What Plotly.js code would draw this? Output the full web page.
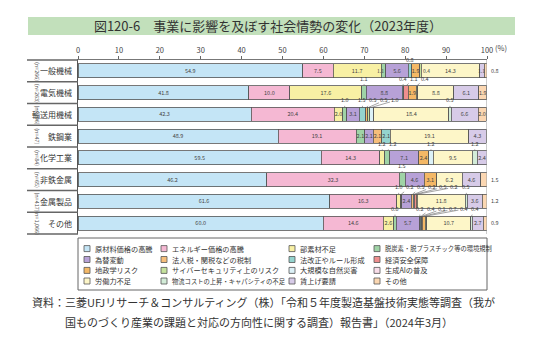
<!DOCTYPE html>
<html><head><meta charset="utf-8">
<script src="https://cdn.plot.ly/plotly-3.0.1.min.js"></script>
<style>html,body{margin:0;padding:0;background:#fff;}#chart{width:536px;height:354px;}</style>
</head><body><div id="chart"></div>
<script>
// ---- data ----
const categories = ['一般機械','電気機械','輸送用機械','鉄鋼業','化学工業','非鉄金属','金属製品','その他'];
const sampleSizes = ['(n=266)','(n=263)','(n=196)','(n=47)','(n=84)','(n=65)','(n=417)','(n=1,066)'];
const seriesNames = ['原材料価格の高騰','エネルギー価格の高騰','部素材不足','脱炭素・脱プラスチック等の環境規制',
  '為替変動','法人税・関税などの税制','法改正やルール形成','経済安全保障',
  '地政学リスク','サイバーセキュリティ上のリスク','大規模な自然災害','生成AIの普及',
  '労働力不足','物流コストの上昇・キャパシティの不足','賃上げ要請','その他'];
const seriesColors = ['#c4e5f6','#f5b8d3','#f8f0a4','#9fd3a6','#b7a1d7','#f6be7b','#94d4cf','#ee8e8e',
  '#f4b866','#c5e29d','#dcf1f7','#f9dde9','#fdf6c8','#d3ecd8','#d7cbe8','#fbd7b2'];
// values (%) per industry, in series order
const ippanKikai    = [54.9, 7.5, 11.7, 1.1, 5.6, 0, 0.8, 0, 1.9, 0.4, 0, 0, 14.3, 0, 1.1, 0.8];
const denkiKikai    = [41.8, 10.0, 17.6, 1.1, 8.8, 0, 0.4, 1.1, 1.9, 0.4, 0, 0, 8.8, 0, 6.1, 1.9];
const yusoKikai     = [42.3, 20.4, 2.0, 1.0, 3.1, 0, 1.5, 0, 0.5, 0.5, 1.0, 0, 18.4, 0.5, 6.6, 2.0];
const tekko         = [48.9, 19.1, 0, 2.1, 2.1, 2.1, 2.1, 0, 0, 0, 0, 0, 19.1, 0, 4.3, 0];
const kagaku        = [59.5, 14.3, 1.2, 1.2, 7.1, 0, 0, 0, 2.4, 0, 1.2, 0, 9.5, 1.2, 2.4, 0];
const hitetsuKinzoku= [46.2, 32.3, 0, 1.5, 4.6, 0, 0, 0, 3.1, 0, 0, 0, 6.2, 0, 4.6, 1.5];
const kinzokuSeihin = [61.6, 16.3, 1.0, 0.2, 2.4, 0.5, 0.2, 0.5, 0.2, 0, 0, 0, 11.8, 0.5, 3.6, 1.2];
const sonota        = [60.0, 14.6, 2.6, 0.6, 5.7, 0.2, 0.4, 0.1, 0.7, 0.4, 0, 0, 10.7, 0.4, 2.7, 0.9];
const xTickVals = [0,10,20,30,40,50,60,70,80,90,100];
const xTickText = ['0','10','20','30','40','50','60','70','80','90','100'];

const rows = [ippanKikai, denkiKikai, yusoKikai, tekko, kagaku, hitetsuKinzoku, kinzokuSeihin, sonota];

// ---- layout geometry ----
const W = 536, H = 354, L = 78, R = 49, T = 60, B = 120;
const pw = W - L - R, ph = H - T - B;
const px2X = p => (p - L) / pw;
const px2Y = p => (H - B - p) / ph;
const FONT = '"Noto Sans CJK JP", "Noto Sans", sans-serif';
const TXT = '#333';
const LBL = {size: 5.5, color: '#444', family: FONT};

const traces = seriesNames.map((name, k) => ({
  type: 'bar', orientation: 'h', name: name,
  y: categories.map((c, i) => i),
  x: rows.map(r => r[k] > 0 ? r[k] : null),
  marker: {color: seriesColors[k], line: {color: '#555', width: 0.8}},
  text: rows.map(r => r[k] >= 1.9 ? r[k].toFixed(1) : ''),
  textposition: 'inside', insidetextanchor: 'middle', textangle: 0, constraintext: 'none',
  insidetextfont: LBL,
  hoverinfo: 'skip', showlegend: false
}));

const annotations = [];
const shapes = [];

// small-segment labels
const pxPerPct = pw / 100;
rows.forEach((r, i) => {
  let cum = 0, lastPx = -1e9;
  r.forEach((v, k) => {
    const start = cum; cum += v;
    if (!(v > 0) || v >= 1.9) return;
    if (k === r.length - 1) {
      annotations.push({x: 100, y: i, xref: 'x', yref: 'y', text: v.toFixed(1), showarrow: false,
        xanchor: 'left', xshift: 2, font: LBL});
      return;
    }
    const c = start + v / 2;
    if (i === 0 && k !== 6) {
      // top row: labels sit inside the bar (no room above, under the axis labels)
      annotations.push({x: c, y: i, xref: 'x', yref: 'y', text: v.toFixed(1), showarrow: false,
        xshift: k === 3 ? -3 : (k === 9 ? 6 : 0), font: {size: 5, color: '#444', family: FONT}});
      return;
    }
    const p = c * pxPerPct;
    let tp = p;
    if (tp < lastPx + 11) tp = lastPx + 11;
    lastPx = tp;
    annotations.push({x: c, y: i - 0.322, xref: 'x', yref: 'y', text: v.toFixed(1),
      showarrow: true, arrowhead: 0, arrowwidth: 0.6, arrowcolor: '#666', standoff: 0,
      ax: tp - p, ay: i === 0 ? -4 : -7, font: LBL});
  });
});

// category labels & n labels
categories.forEach((c, i) => {
  annotations.push({x: 0, y: i, xref: 'paper', yref: 'y', text: c, showarrow: false,
    xanchor: 'right', xshift: -4, font: {size: 8, color: TXT, family: FONT}});
  annotations.push({x: px2X(31), y: i, xref: 'paper', yref: 'y', text: sampleSizes[i], showarrow: false,
    textangle: 90, font: {size: 5.5, color: '#555', family: FONT}});
});
// separators in label area
for (let k = 0; k <= categories.length; k++) {
  shapes.push({type: 'line', xref: 'paper', yref: 'paper', x0: px2X(27), x1: 0,
    y0: 1 - k / categories.length, y1: 1 - k / categories.length, line: {color: '#666', width: 1.5}});
}
// right border at 100
shapes.push({type: 'line', xref: 'x', yref: 'paper', x0: 100, x1: 100, y0: 0, y1: 1, line: {color: '#999', width: 1}});
// (%) unit
annotations.push({x: 100, y: 1, xref: 'x', yref: 'paper', text: '(%)', showarrow: false,
  xanchor: 'left', yanchor: 'bottom', xshift: 6, yshift: 5, font: {size: 7.5, color: '#444', family: FONT}});

// title band
shapes.push({type: 'rect', xref: 'paper', yref: 'paper', x0: px2X(28), x1: px2X(515), y0: px2Y(35), y1: px2Y(17),
  fillcolor: '#c2e0bb', line: {width: 0}, layer: 'below'});

// legend box
shapes.push({type: 'rect', xref: 'paper', yref: 'paper', x0: 0, x1: 1, y0: px2Y(290), y1: px2Y(238),
  fillcolor: 'rgba(0,0,0,0)', line: {color: '#666', width: 1}});
const legColX = [84, 161, 289, 374];
const legRowY = [248.6, 259.5, 270.4, 281];
seriesNames.forEach((name, k) => {
  const cx = legColX[k % 4], cy = legRowY[Math.floor(k / 4)];
  shapes.push({type: 'rect', xref: 'paper', yref: 'paper', x0: px2X(cx), x1: px2X(cx + 6),
    y0: px2Y(cy + 3), y1: px2Y(cy - 3), fillcolor: seriesColors[k], line: {color: '#555', width: 0.8}});
  annotations.push({x: px2X(cx + 8.5), y: px2Y(cy), xref: 'paper', yref: 'paper', text: name, showarrow: false,
    xanchor: 'left', yanchor: 'middle', font: {size: k === 3 || k === 13 ? 6.3 : 7.2, color: TXT, family: FONT}});
});

// source
annotations.push({x: px2X(30), y: px2Y(302), xref: 'paper', yref: 'paper', showarrow: false, xanchor: 'left', yanchor: 'middle',
  text: '資料：三菱UFJリサーチ＆コンサルティング（株）「令和５年度製造基盤技術実態等調査（我が',
  font: {size: 11, color: TXT, family: FONT}});
annotations.push({x: px2X(63), y: px2Y(322), xref: 'paper', yref: 'paper', showarrow: false, xanchor: 'left', yanchor: 'middle',
  text: '国ものづくり産業の課題と対応の方向性に関する調査）報告書」（2024年3月）',
  font: {size: 11, color: TXT, family: FONT}});

const layout = {
  width: W, height: H, margin: {l: L, r: R, t: T, b: B, pad: 0},
  paper_bgcolor: '#fff', plot_bgcolor: '#fff',
  barmode: 'stack', bargap: 0.356,
  title: {text: '図120-6　事業に影響を及ぼす社会情勢の変化（2023年度）', x: 0.5, xref: 'container', xanchor: 'center',
    y: 1 - 26 / H, yref: 'container', yanchor: 'middle', font: {size: 13, color: TXT, family: FONT}},
  xaxis: {range: [0, 100], side: 'top', tickvals: xTickVals, ticktext: xTickText, showgrid: false, zeroline: false,
    showline: true, linecolor: '#777', linewidth: 1, ticks: 'outside', ticklen: 3, tickcolor: '#666',
    tickfont: {size: 7.5, color: '#444', family: FONT}, fixedrange: true},
  yaxis: {type: 'linear', range: [7.5, -0.5], showticklabels: false, showgrid: false, zeroline: false,
    showline: true, linecolor: '#555', linewidth: 1.5, ticks: '', fixedrange: true},
  annotations: annotations, shapes: shapes, showlegend: false
};
Plotly.newPlot('chart', traces, layout, {staticPlot: true, displayModeBar: false});
</script></body></html>
